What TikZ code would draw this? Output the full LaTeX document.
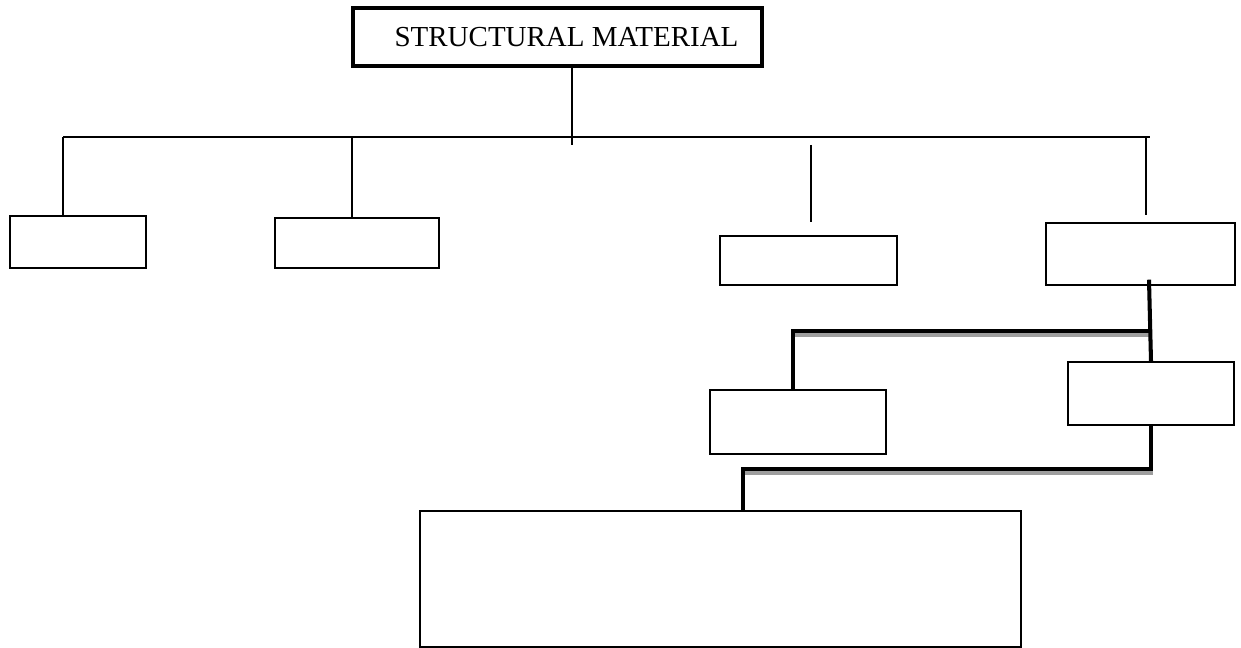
\documentclass[tikz,border=0pt]{standalone}
\usepackage{fontspec}
\setmainfont{Liberation Serif}

\tikzset{
    box/.style={draw, line width=0.8pt, rectangle, inner sep=0pt},
    titlebox/.style={draw, line width=2.3pt, rectangle, inner sep=0pt, font=\fontsize{16.5}{19}\selectfont},
    thin line/.style={line width=0.8pt},
    thick line/.style={line width=2.3pt},
    shadow line/.style={line width=2.3pt, draw=shadowgray}
}

\begin{document}
\begin{tikzpicture}[x=0.02cm, y=-0.02cm]
            \useasboundingbox (0,0) rectangle (1241,648);
            \definecolor{shadowgray}{gray}{0.62};

            \node[titlebox, minimum width=8.18cm, minimum height=1.16cm] (title) at (557.5,37) {\hspace{0.36cm}STRUCTURAL MATERIAL};

            \node[box, minimum width=2.72cm, minimum height=1.04cm] (wood) at (78,242) {};
            \node[box, minimum width=3.28cm, minimum height=1.0cm] (stone) at (357,243) {};
            \node[box, minimum width=3.54cm, minimum height=0.98cm] (glass) at (808.5,260.5) {};
            \node[box, minimum width=3.78cm, minimum height=1.24cm] (metal) at (1140.5,254) {};
            \node[box, minimum width=3.52cm, minimum height=1.28cm] (ferrous) at (798,422) {};
            \node[box, minimum width=3.32cm, minimum height=1.26cm] (nonferrous) at (1151,393.5) {};
            \node[box, minimum width=12.02cm, minimum height=2.72cm] (alloys) at (720.5,579) {};

            % main bus
            \coordinate (busL) at (63,137);
            \coordinate (busR) at (1150,137);
            \coordinate (busM) at (572,137);
            \coordinate (busT) at (572,145);
            \coordinate (busS) at (352,137);
            \draw [thin line] (busL) -- (busR);
            \draw [thin line] (title.south -| busM) -- (busT);
            \draw [thin line] (busL) -- (wood.north -| busL);
            \draw [thin line] (busS) -- (stone.north -| busS);

            % loose stubs
            \coordinate (glassA) at (811,145);
            \coordinate (glassB) at (811,222);
            \coordinate (metalA) at (1146,137);
            \coordinate (metalB) at (1146,215);
            \draw [thin line] (glassA) -- (glassB);
            \draw [thin line] (metalA) -- (metalB);

            % metal branches
            \coordinate (m1) at (1149,331);
            \coordinate (m2) at (793,331);
            \coordinate (n1) at (1151,469);
            \coordinate (n2) at (743,469);
            \draw [shadow line] ([shift={(2,4)}]m2) -- ([shift={(2,4)}]m1);
            \draw [shadow line] ([shift={(2,4)}]n2) -- ([shift={(2,4)}]n1);
            \draw [thick line] ([yshift=3.4pt]metal.south -| m1) -- (nonferrous.north -| n1);
            \draw [thick line] (m1) -- (m2) -- (ferrous.north -| m2);
            \draw [thick line] (nonferrous.south -| n1) -- (n1) -- (n2) -- (alloys.north -| n2);

        \end{tikzpicture}
\end{document}
